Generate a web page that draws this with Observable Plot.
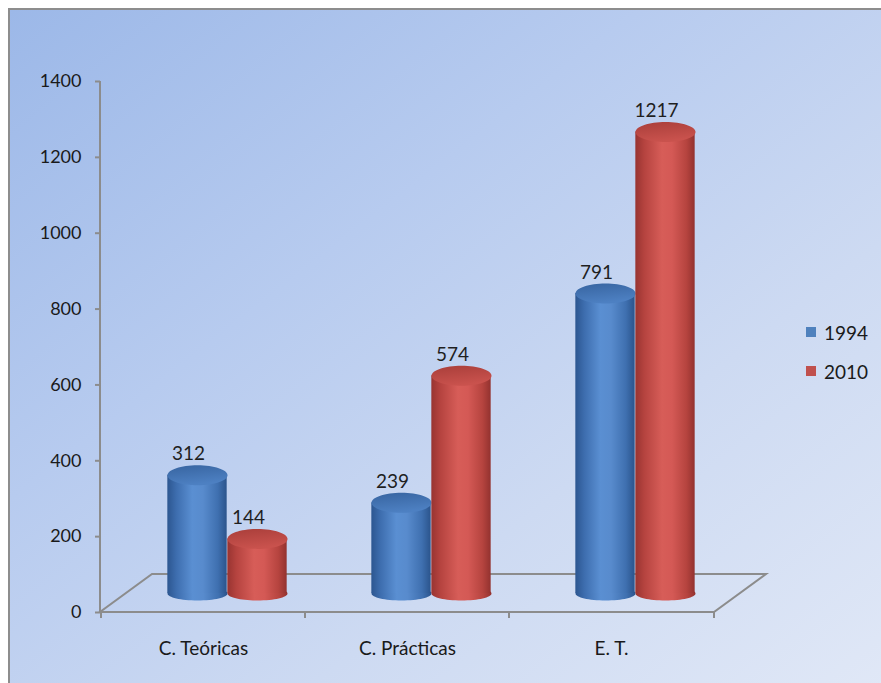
<!DOCTYPE html>
<html>
<head>
<meta charset="utf-8">
<script src="https://cdn.jsdelivr.net/npm/d3@7"></script>
<script src="https://cdn.jsdelivr.net/npm/@observablehq/plot@0.6"></script>
<style>
  html, body { margin: 0; padding: 0; background: #ffffff; }
  #page { position: relative; width: 881px; height: 683px; overflow: hidden; font-family: Lato, "Open Sans", sans-serif; }
  #panel {
    position: absolute; left: 8px; top: 8px; width: 900px; height: 700px;
    border-left: 2px solid #8d8d8d; border-top: 2px solid #8d8d8d;
    background: linear-gradient(to bottom right, #9cb8e8 0%, #b7cbef 35%, #cddaf2 65%, #e2e9f7 100%);
  }
  #chart { position: absolute; left: 0; top: 0; }
  #legend { position: absolute; left: 806px; top: 318px; font-size: 19px; color: #1a1a1a; }
  #legend .row { display: flex; align-items: center; height: 28px; margin-bottom: 11px; }
  #legend .sw { width: 10px; height: 10px; margin-right: 8px; }
</style>
</head>
<body>
<svg width="0" height="0" style="position:absolute">
  <defs>
    <linearGradient id="body1994" x1="0" x2="1" y1="0" y2="0">
      <stop offset="0%" stop-color="#2c5690"/>
      <stop offset="15%" stop-color="#3d6dae"/>
      <stop offset="42%" stop-color="#5a8fd2"/>
      <stop offset="60%" stop-color="#588bcd"/>
      <stop offset="85%" stop-color="#3f70b0"/>
      <stop offset="100%" stop-color="#2b548c"/>
    </linearGradient>
    <linearGradient id="body2010" x1="0" x2="1" y1="0" y2="0">
      <stop offset="0%" stop-color="#983431"/>
      <stop offset="15%" stop-color="#b5433f"/>
      <stop offset="45%" stop-color="#d75d58"/>
      <stop offset="62%" stop-color="#d45955"/>
      <stop offset="86%" stop-color="#b6443f"/>
      <stop offset="100%" stop-color="#93322f"/>
    </linearGradient>
    <linearGradient id="top1994" x1="0" x2="0.3" y1="0" y2="1">
      <stop offset="0%" stop-color="#3764a0"/>
      <stop offset="100%" stop-color="#4d80c2"/>
    </linearGradient>
    <linearGradient id="top2010" x1="0" x2="0.3" y1="0" y2="1">
      <stop offset="0%" stop-color="#a93e3a"/>
      <stop offset="100%" stop-color="#c9524d"/>
    </linearGradient>
  </defs>
</svg>
<div id="page">
  <div id="panel"></div>
  <div id="chart"></div>
  <div id="legend"></div>
</div>
<script>
// Values per category for each survey year
const categories = ["C. Teóricas", "C. Prácticas", "E. T."];
const series = ["1994", "2010"];
const values1994 = [312, 239, 791];
const values2010 = [144, 574, 1217];
const yTicks = [0, 200, 400, 600, 800, 1000, 1200, 1400];
const seriesColors = ["#4f81bd", "#c0504d"];

const rows1994 = categories.map((category, i) => ({category, value: values1994[i]}));
const rows2010 = categories.map((category, i) => ({category, value: values2010[i]}));

// Layout of the pseudo-3D box
const W = 881, H = 683;
const margin = {left: 100, right: 167, top: 81, bottom: 71};
const floorDx = 52, floorDy = -38;          // back edge of the floor
const depthDx = floorDx / 2, depthDy = floorDy / 2; // columns stand mid-depth
const barWidth = 60, rx = barWidth / 2, ryTop = 10, ryBottom = 7;
const bandWidth = (W - margin.left - margin.right) / categories.length;
const inset = (bandWidth - barWidth) / 2;
const pairShift = depthDx - 2;
const axisGray = "#8c8c8c";

// Ellipse drawn as a custom dot symbol
const ellipse = (ax, ay) => ({
  draw(ctx) {
    const k = 0.5523;
    ctx.moveTo(ax, 0);
    ctx.bezierCurveTo(ax, ay * k, ax * k, ay, 0, ay);
    ctx.bezierCurveTo(-ax * k, ay, -ax, ay * k, -ax, 0);
    ctx.bezierCurveTo(-ax, -ay * k, -ax * k, -ay, 0, -ay);
    ctx.bezierCurveTo(ax * k, -ay, ax, -ay * k, ax, 0);
    ctx.closePath();
  }
});

// Floor parallelogram, value axis line and category boundary ticks
function floorAndAxes(index, scales, values, dims) {
  const x0 = dims.marginLeft, x1 = dims.width - dims.marginRight;
  const y0 = scales.y(0), yTop = scales.y(yTicks[yTicks.length - 1]);
  const g = d3.create("svg:g").attr("fill", "none").attr("stroke", axisGray).attr("stroke-width", 2);
  g.append("path").attr("d",
    `M${x0},${y0}L${x1},${y0}L${x1 + floorDx},${y0 + floorDy}L${x0 + floorDx},${y0 + floorDy}Z`);
  g.append("path").attr("d", `M${x0},${y0}V${yTop}`);
  const edges = categories.map((c) => scales.x(c)).concat([x1]);
  for (const ex of edges) g.append("path").attr("d", `M${ex},${y0}v6`);
  return g.node();
}

function cylinderMarks(rows, key, k) {
  const dx = pairShift + (k === 0 ? -rx : rx);
  return [
    Plot.dot(rows, {x: "category", y: () => 0, symbol: ellipse(rx, ryBottom), fill: `url(#body${key})`, dx, dy: depthDy}),
    Plot.barY(rows, {x: "category", y1: () => 0, y2: "value", fill: `url(#body${key})`, insetLeft: inset, insetRight: inset, dx, dy: depthDy}),
    Plot.dot(rows, {x: "category", y: "value", symbol: ellipse(rx, ryTop), fill: `url(#top${key})`, dx, dy: depthDy}),
    Plot.text(rows, {x: "category", y: "value", text: (d) => String(d.value), dx: dx - 9, dy: depthDy - 21, fontSize: 19, fill: "#1f1f1f", lineAnchor: "middle"})
  ];
}

const chart = Plot.plot({
  width: W,
  height: H,
  marginLeft: margin.left,
  marginRight: margin.right,
  marginTop: margin.top,
  marginBottom: margin.bottom,
  style: {background: "transparent", fontFamily: "Lato, 'Open Sans', sans-serif", fontSize: "16px", color: "#1a1a1a", overflow: "visible"},
  x: {domain: categories, padding: 0},
  y: {domain: [0, 1400]},
  marks: [
    floorAndAxes,
    Plot.axisY({ticks: yTicks, tickFormat: (d) => String(d), tickSize: 5, tickPadding: 14, stroke: axisGray, strokeWidth: 2, label: null, fontSize: 18}),
    Plot.axisX({tickSize: 0, tickPadding: 29, label: null, fontSize: 19}),
    ...cylinderMarks(rows1994, "1994", 0),
    ...cylinderMarks(rows2010, "2010", 1)
  ]
});
document.getElementById("chart").append(chart);

// Legend
const legend = d3.select("#legend");
series.forEach((s, i) => {
  const row = legend.append("div").attr("class", "row");
  row.append("div").attr("class", "sw").style("background", seriesColors[i]);
  row.append("span").text(s);
});
</script>
</body>
</html>
